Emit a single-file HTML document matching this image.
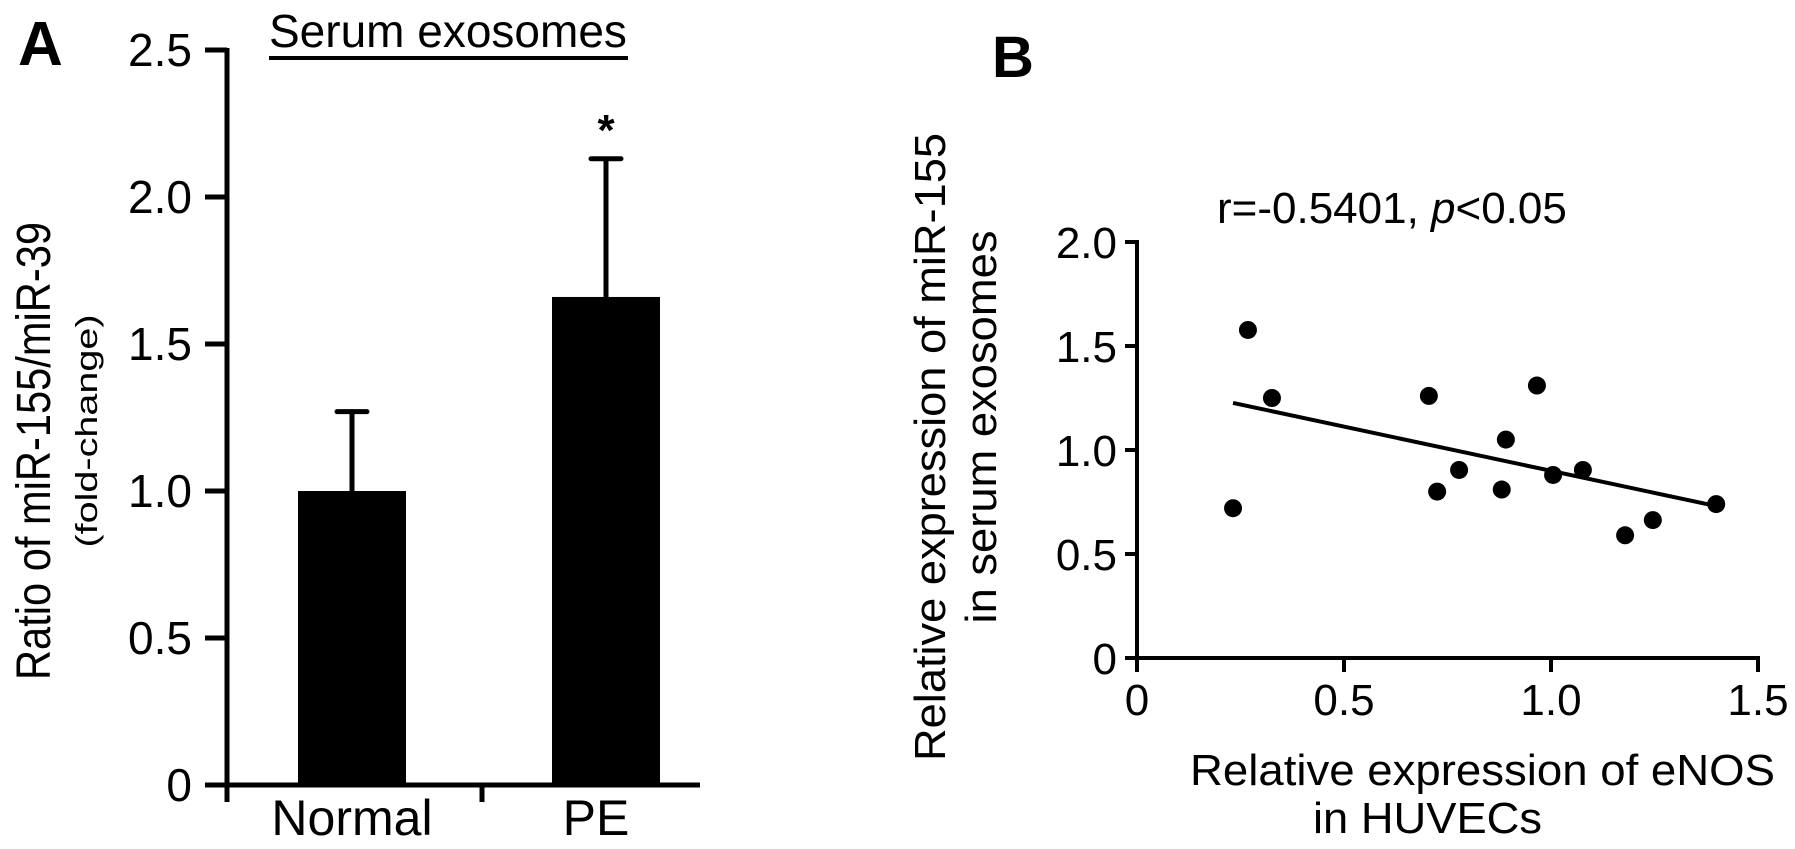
<!DOCTYPE html>
<html><head><meta charset="utf-8"><style>
html,body{margin:0;padding:0;background:#fff;}
svg{display:block;font-family:"Liberation Sans",Arial,sans-serif;}
</style></head><body>
<svg id="fig" width="1795" height="849" viewBox="0 0 1795 849" xmlns="http://www.w3.org/2000/svg">
<text x="18" y="65" font-size="62" font-weight="bold">A</text>
<text x="992" y="77" font-size="58" font-weight="bold">B</text>
<g id="pa"></g>
<g id="pb"></g>
</svg>
<script>
// Panel A data
const barCategories = ["Normal", "PE"];
const barValues = [1.0, 1.66];
const barErrors = [0.27, 0.47];
const barYTicks = [0, 0.5, 1.0, 1.5, 2.0, 2.5];
const barYTickLabels = ["0", "0.5", "1.0", "1.5", "2.0", "2.5"];
// Panel B data
const scatterX = [0.232, 0.268, 0.326, 0.705, 0.725, 0.778, 0.881, 0.891, 0.966, 1.005, 1.077, 1.179, 1.246, 1.399];
const scatterY = [0.72, 1.577, 1.25, 1.26, 0.80, 0.904, 0.81, 1.05, 1.31, 0.88, 0.904, 0.59, 0.663, 0.74];
const fitLine = [1.325, -0.425]; // intercept, slope
const fitRange = [0.232, 1.399];
const scatterXTicks = [0, 0.5, 1.0, 1.5];
const scatterXTickLabels = ["0", "0.5", "1.0", "1.5"];
const scatterYTicks = [0, 0.5, 1.0, 1.5, 2.0];
const scatterYTickLabels = ["0", "0.5", "1.0", "1.5", "2.0"];

const NS = "http://www.w3.org/2000/svg";
function mk(parent, tag, attrs, txt) {
  const e = document.createElementNS(NS, tag);
  for (const k in attrs) e.setAttribute(k, attrs[k]);
  if (txt !== undefined) e.textContent = txt;
  parent.appendChild(e);
  return e;
}

// ---------- Panel A ----------
const pa = document.getElementById("pa");
const ayA = v => 785 - v * 294;
const axA = i => [352, 606][i];
const barW = 108;
let t = mk(pa, "text", {x: 269, y: 47, "font-size": 46}, "Serum exosomes");


let u = mk(pa, "line", {x1: 269, y1: 58, x2: 628, y2: 58, stroke: "#000", "stroke-width": 4});


let ya = mk(pa, "line", {x1: 227, y1: ayA(2.5) - 2, x2: 227, y2: 802, stroke: "#000", "stroke-width": 5});


barYTicks.forEach((v, i) => {
  const tk = mk(pa, "line", {x1: 205, y1: ayA(v), x2: 227, y2: ayA(v), stroke: "#000", "stroke-width": 5});
  
  
  const lb = mk(pa, "text", {x: 192, y: ayA(v) + 16, "font-size": 46, "text-anchor": "end"}, barYTickLabels[i]);
  
  
});
barCategories.forEach((c, i) => {
  const cx = axA(i);
  const r = mk(pa, "rect", {x: cx - barW / 2, y: ayA(barValues[i]), width: barW, height: ayA(0) - ayA(barValues[i]), fill: "#000"});
  
  
  const top = ayA(barValues[i] + barErrors[i]);
  const el = mk(pa, "line", {x1: cx, y1: ayA(barValues[i]), x2: cx, y2: top, stroke: "#000", "stroke-width": 5});
  
  
  const cap = mk(pa, "line", {x1: cx - 15, y1: top, x2: cx + 15, y2: top, stroke: "#000", "stroke-width": 5, "stroke-linecap": "round"});
  
  
  const lb = mk(pa, "text", {x: cx - (i ? 10 : 0), y: 835, "font-size": 50, "text-anchor": "middle"}, c);
  
  
});
let ast = mk(pa, "text", {x: axA(1), y: 145, "font-size": 44, "font-weight": "bold", "text-anchor": "middle"}, "*");


let xa = mk(pa, "line", {x1: 205, y1: ayA(0), x2: 700, y2: ayA(0), stroke: "#000", "stroke-width": 5});


let mt = mk(pa, "line", {x1: 482, y1: ayA(0), x2: 482, y2: 802, stroke: "#000", "stroke-width": 5});


let yt1 = mk(pa, "text", {transform: "translate(50,451) rotate(-90)", "font-size": 48, "text-anchor": "middle", textLength: 458, lengthAdjust: "spacingAndGlyphs"}, "Ratio of miR-155/miR-39");


let yt2 = mk(pa, "text", {transform: "translate(97,431) rotate(-90)", "font-size": 31, "text-anchor": "middle", textLength: 233, lengthAdjust: "spacingAndGlyphs"}, "(fold-change)");



// ---------- Panel B ----------
const pb = document.getElementById("pb");
const sx = v => 1137 + v * 414;
const sy = v => 658 - v * 208;
let rt = mk(pb, "text", {x: 1217, y: 223, "font-size": 44});


rt.innerHTML = 'r=-0.5401, <tspan font-style="italic">p</tspan>&lt;0.05';
let yb = mk(pb, "line", {x1: sx(0), y1: sy(2.0) - 2, x2: sx(0), y2: 670, stroke: "#000", "stroke-width": 4});


let xb = mk(pb, "line", {x1: 1125, y1: sy(0), x2: sx(1.5) + 2, y2: sy(0), stroke: "#000", "stroke-width": 4});


scatterYTicks.forEach((v, i) => {
  const tk = mk(pb, "line", {x1: 1125, y1: sy(v), x2: sx(0), y2: sy(v), stroke: "#000", "stroke-width": 4});
  
  
  const lb = mk(pb, "text", {x: 1117, y: sy(v) + 16, "font-size": 44, "text-anchor": "end"}, scatterYTickLabels[i]);
  
  
});
scatterXTicks.forEach((v, i) => {
  const tk = mk(pb, "line", {x1: sx(v), y1: sy(0), x2: sx(v), y2: 672, stroke: "#000", "stroke-width": 4});
  
  
  const lb = mk(pb, "text", {x: sx(v), y: 715, "font-size": 44, "text-anchor": "middle"}, scatterXTickLabels[i]);
  
  
});
let fl = mk(pb, "line", {x1: sx(fitRange[0]), y1: sy(fitLine[0] + fitLine[1] * fitRange[0]), x2: sx(fitRange[1]), y2: sy(fitLine[0] + fitLine[1] * fitRange[1]), stroke: "#000", "stroke-width": 4});


scatterX.forEach((x, i) => {
  const c = mk(pb, "circle", {cx: sx(x), cy: sy(scatterY[i]), r: 9, fill: "#000"});
  
  
});
let xt1 = mk(pb, "text", {x: 1190, y: 785, "font-size": 44, textLength: 585, lengthAdjust: "spacingAndGlyphs"}, "Relative expression of eNOS");


let xt2 = mk(pb, "text", {x: 1313, y: 833, "font-size": 44, textLength: 229, lengthAdjust: "spacingAndGlyphs"}, "in HUVECs");


let by1 = mk(pb, "text", {transform: "translate(945,447) rotate(-90)", "font-size": 44, "text-anchor": "middle", textLength: 628, lengthAdjust: "spacingAndGlyphs"}, "Relative expression of miR-155");


let by2 = mk(pb, "text", {transform: "translate(996,427) rotate(-90)", "font-size": 44, "text-anchor": "middle", textLength: 393, lengthAdjust: "spacingAndGlyphs"}, "in serum exosomes");


</script>
</body></html>
